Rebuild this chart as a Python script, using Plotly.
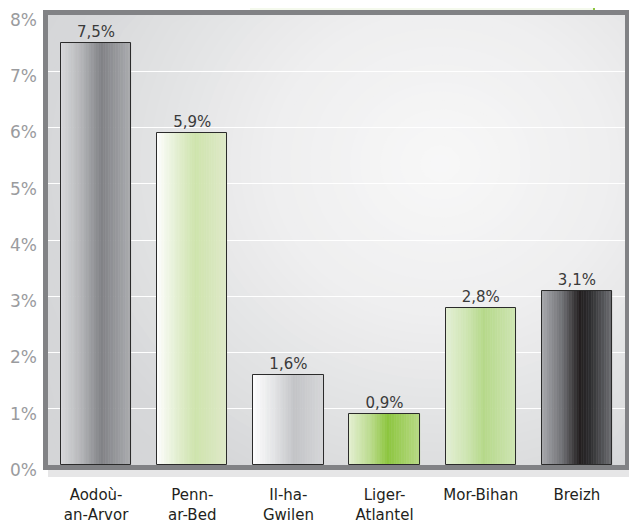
import math

import plotly.graph_objects as go

# data
regions = ["Aodoù-an-Arvor", "Penn-ar-Bed", "Il-ha-Gwilen", "Liger-Atlantel", "Mor-Bihan", "Breizh"]
region_labels = ["Aodoù-<br>an-Arvor", "Penn-<br>ar-Bed", "Il-ha-<br>Gwilen", "Liger-<br>Atlantel", "Mor-Bihan", "Breizh"]
rates = [7.5, 5.9, 1.6, 0.9, 2.8, 3.1]
y_ticks = [0, 1, 2, 3, 4, 5, 6, 7, 8]
y_tick_labels = ["0%", "1%", "2%", "3%", "4%", "5%", "6%", "7%", "8%"]

# horizontal gradient stops for each bar (left -> right)
bar_gradients = [
    [(0.0, "#dadbdd"), (0.3, "#b4b5b8"), (0.58, "#818286"), (0.8, "#97989c"), (1.0, "#abacaf")],
    [(0.0, "#ffffff"), (0.3, "#e3efd0"), (0.55, "#cfe4ad"), (1.0, "#dfeac9")],
    [(0.0, "#ffffff"), (0.3, "#e4e5e7"), (0.6, "#c3c4c7"), (1.0, "#d6d7d9")],
    [(0.0, "#e4f0d2"), (0.3, "#bcdc8e"), (0.55, "#8dc63f"), (1.0, "#b8da85")],
    [(0.0, "#e5f0d6"), (0.3, "#cfe6b3"), (0.55, "#b6d98a"), (1.0, "#cfe5b3")],
    [(0.0, "#a9aaae"), (0.3, "#707175"), (0.55, "#231f20"), (0.7, "#2e2e30"), (1.0, "#6e6f73")],
]
# radial plot-area background (distance in px -> colour)
bg_stops = [(0, "#f8f8f8"), (180, "#eeeeef"), (310, "#e0e1e2"), (400, "#d6d7d9"), (600, "#d2d3d5")]

BAR_W = 0.73
SLICES = 28
PLOT_W, PLOT_H = 577, 450
FONT = "DejaVu Sans"


def _hex(c):
    c = c.lstrip("#")
    return [int(c[i:i + 2], 16) for i in (0, 2, 4)]


def _interp(stops, t):
    for (t0, c0), (t1, c1) in zip(stops, stops[1:]):
        if t0 <= t <= t1:
            f = (t - t0) / (t1 - t0) if t1 > t0 else 0
            a, b = _hex(c0), _hex(c1)
            return "rgb({},{},{})".format(*[round(a[k] + (b[k] - a[k]) * f) for k in range(3)])
    return stops[-1][1]


def _clipped_ellipse(cx, cy, rx, ry, n=72):
    pts = []
    for k in range(n):
        a = 2 * math.pi * k / n
        x = min(1, max(0, cx + rx * math.cos(a)))
        y = min(1, max(0, cy + ry * math.sin(a)))
        pts.append(f"{x:.4f},{y:.4f}")
    return "M" + " L".join(pts) + " Z"


fig = go.Figure()

for i in range(SLICES):
    t = (i + 0.5) / SLICES
    cols = [_interp(g, t) for g in bar_gradients]
    fig.add_trace(go.Bar(
        x=regions, y=rates,
        width=BAR_W / SLICES, offset=-BAR_W / 2 + i * BAR_W / SLICES,
        marker=dict(color=cols, line=dict(color=cols, width=0.6)),
        hoverinfo="skip", showlegend=False,
    ))

# outline
fig.add_trace(go.Bar(
    x=regions, y=rates, width=BAR_W, offset=-BAR_W / 2,
    marker=dict(color="rgba(0,0,0,0)", line=dict(color="#2b2b2b", width=1)),
    showlegend=False,
))

# value labels
fig.add_trace(go.Scatter(
    x=regions, y=rates, mode="markers+text",
    marker=dict(size=2, color="rgba(0,0,0,0)"),
    text=[f"{v:.1f}".replace(".", ",") + "%" for v in rates],
    textposition="top center", cliponaxis=False,
    textfont=dict(family=FONT, size=15, color="#3a3a3a"),
    hoverinfo="skip", showlegend=False,
))

px_x = 1 / PLOT_W
px_y = 1 / PLOT_H

# radial background, built from ellipses clamped to the plot area
bg_shapes = []
cx, cy = 0.68, 0.67
for r in range(600, 0, -10):
    bg_shapes.append(dict(
        type="path", xref="x domain", yref="y domain", layer="below",
        path=_clipped_ellipse(cx, cy, r * px_x, r * px_y * 0.9),
        fillcolor=_interp(bg_stops, r), line=dict(width=0),
    ))

# the page body adds an 8px offset, so the figure is 8px smaller than the window
fig.update_layout(
    width=629, height=514,
    margin=dict(l=40, r=12, t=7, b=57),
    paper_bgcolor="white",
    plot_bgcolor="#d4d5d7",
    barmode="overlay",
    bargap=0,
    shapes=bg_shapes + [
        # faint green band + green stroke above the frame
        dict(type="rect", xref="paper", yref="paper", x0=(250 - 48) * px_x, x1=(594 - 48) * px_x,
             y0=1 + 4 * px_y, y1=1 + 15 * px_y, fillcolor="#f4f9ec", line=dict(width=0)),
        dict(type="line", xref="paper", yref="paper", x0=(594 - 48) * px_x, x1=(594 - 48) * px_x,
             y0=1 + 4 * px_y, y1=1 + 15 * px_y, line=dict(color="#8dc63f", width=2)),
        # soft shadow
        dict(type="rect", xref="paper", yref="paper", x0=1 + 5 * px_x, x1=1 + 8 * px_x,
             y0=-8 * px_y, y1=1 + 2 * px_y, fillcolor="#c4c5c8", line=dict(width=0)),
        dict(type="rect", xref="paper", yref="paper", x0=0, x1=1 + 8 * px_x,
             y0=-12 * px_y, y1=-5 * px_y, fillcolor="#e6e6e7", line=dict(width=0)),
        # frame
        dict(type="rect", xref="paper", yref="paper", x0=-2.5 * px_x, x1=1 + 2.5 * px_x,
             y0=-2.5 * px_y, y1=1 + 2.5 * px_y, line=dict(color="#818285", width=5)),
    ],
)

fig.update_xaxes(
    tickvals=regions, ticktext=region_labels,
    tickfont=dict(family=FONT, size=15, color="#231f20"),
    ticks="", showgrid=False, showline=False, zeroline=False,
    ticklabelstandoff=19, automargin=False,
)
fig.update_yaxes(
    range=[0, 8], tickvals=y_ticks, ticktext=y_tick_labels,
    tickfont=dict(family=FONT, size=17, color="#9a9b9e"),
    ticks="", showgrid=True, gridcolor="#ffffff", gridwidth=1.2,
    showline=False, zeroline=False, ticklabelshift=5, ticklabelstandoff=10,
    automargin=False,
)

fig.write_html("out.html")
